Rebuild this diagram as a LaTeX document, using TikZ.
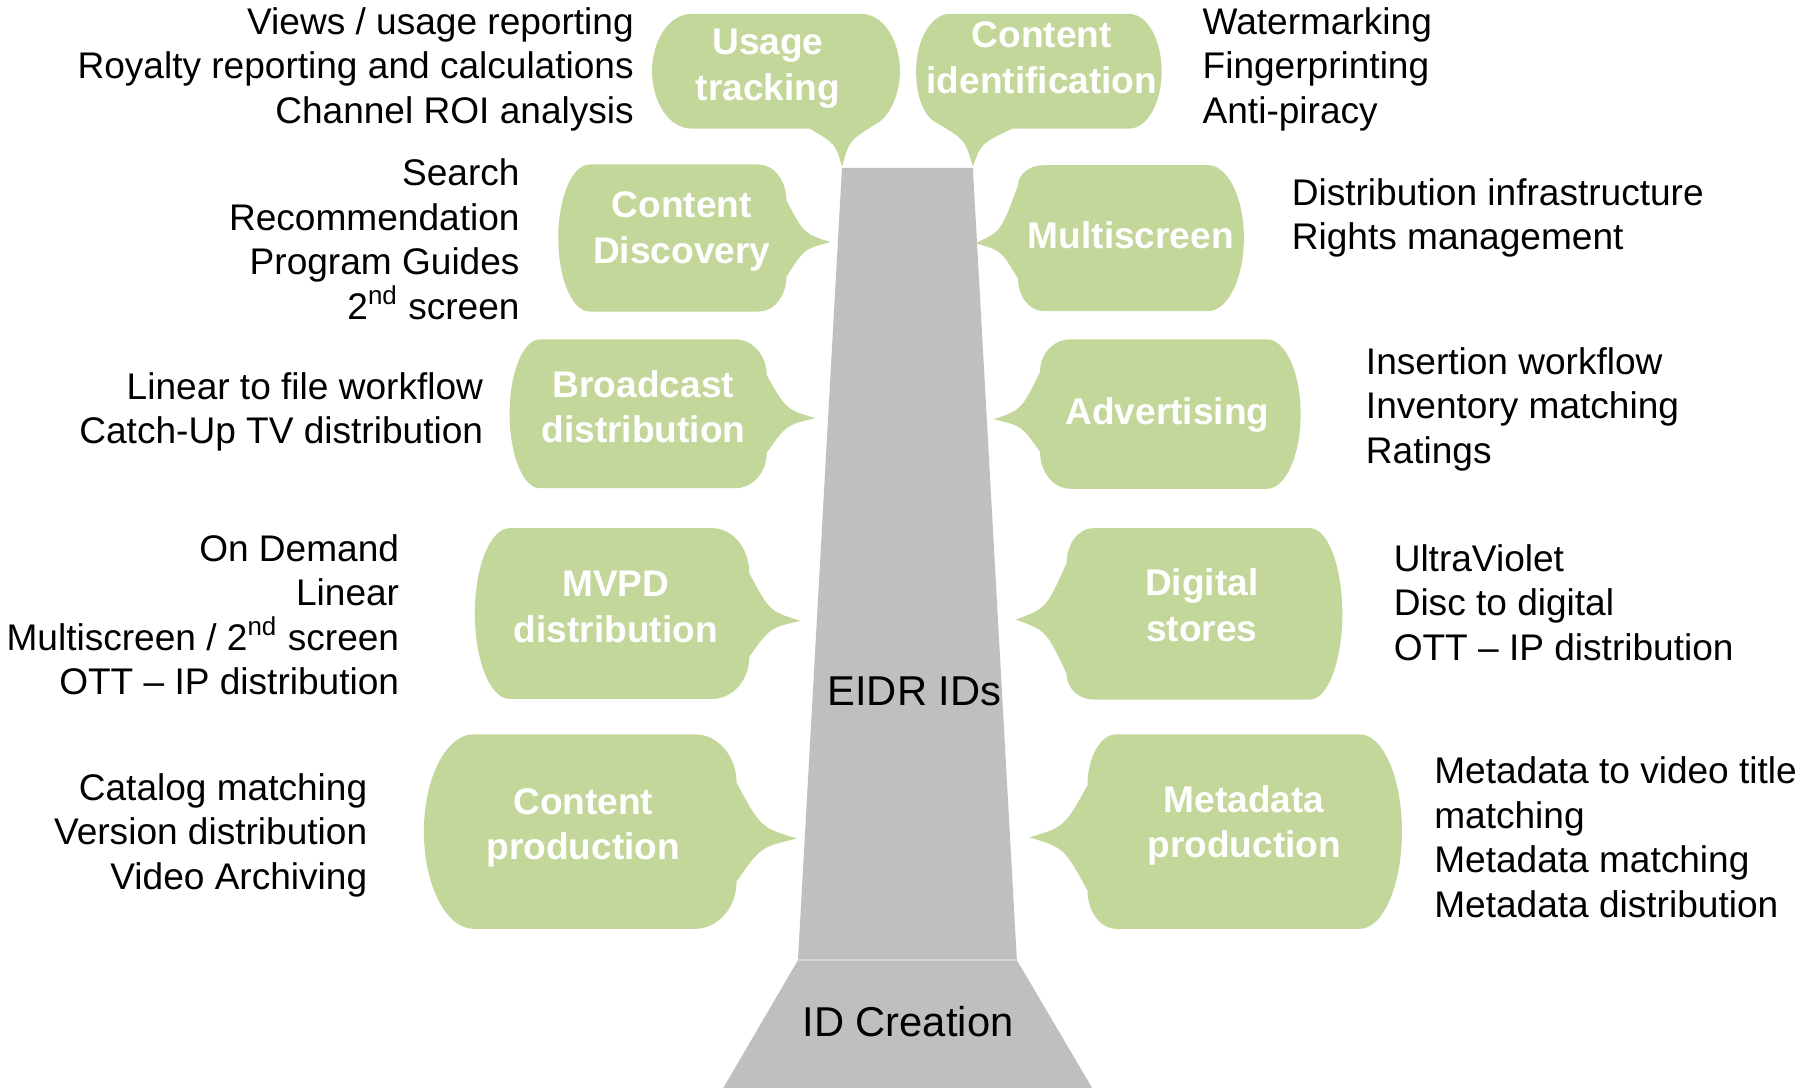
\documentclass[tikz,border=0pt]{standalone}
\usepackage{fontspec}
\setmainfont{Liberation Sans}
\definecolor{bubgreen}{HTML}{C4D79B}
\definecolor{trunkgray}{HTML}{BFBFBF}
\definecolor{seamgray}{HTML}{D4D4D4}
\tikzset{
  bubfill/.style={fill=bubgreen},
  bubtext/.style={text=white, font=\fontsize{16}{19.6}\selectfont\bfseries, align=center, anchor=base, inner sep=0pt},
  lefttext/.style={text=black, font=\fontsize{16}{19.2}\selectfont, align=right, anchor=base east, inner sep=0pt},
  righttext/.style={text=black, font=\fontsize{16}{19.2}\selectfont, align=left, anchor=base west, inner sep=0pt},
  bigtext/.style={text=black, font=\fontsize{18}{21.6}\selectfont, anchor=base, inner sep=0pt}
}
\def\bubtip#1,#2\relax{\def\bubtx{#1}\def\bubty{#2}}
% tail on the right side
\newcommand\bubR[9]{%
  \bubtip#9\relax
  \pgfmathsetmacro\bubM{(#5+#6)/2}%
  \pgfmathsetmacro\bubcA{#3+0.552*(#4-#3)}%
  \pgfmathsetmacro\bubcU{#7-0.552*(#7-#5)}%
  \pgfmathsetmacro\bubcD{#8+0.552*(#6-#8)}%
  \pgfmathsetmacro\bubtUx{#4+0.4*(\bubtx-#4)}%
  \pgfmathsetmacro\bubtUy{#7+0.8*(\bubty-#7)}%
  \pgfmathsetmacro\bubtDy{#8+0.8*(\bubty-#8)}%
  \pgfmathsetmacro\bubcB{#2-0.552*(#2-#1)}%
  \pgfmathsetmacro\bubmU{\bubM-0.552*(\bubM-#5)}%
  \pgfmathsetmacro\bubmD{\bubM+0.552*(#6-\bubM)}%
  \fill[bubfill] (#2,#5) -- (#3,#5) .. controls (\bubcA,#5) and (#4,\bubcU) .. (#4,#7)
    .. controls (\bubtUx,\bubtUy) .. (\bubtx,\bubty)
    .. controls (\bubtUx,\bubtDy) .. (#4,#8)
    .. controls (#4,\bubcD) and (\bubcA,#6) .. (#3,#6) -- (#2,#6)
    .. controls (\bubcB,#6) and (#1,\bubmD) .. (#1,\bubM)
    .. controls (#1,\bubmU) and (\bubcB,#5) .. (#2,#5) -- cycle;
}
% tail on the left side
\newcommand\bubL[9]{%
  \bubtip#9\relax
  \pgfmathsetmacro\bubM{(#5+#6)/2}%
  \pgfmathsetmacro\bubcA{#2-0.552*(#2-#4)}%
  \pgfmathsetmacro\bubcU{#7-0.552*(#7-#5)}%
  \pgfmathsetmacro\bubcD{#8+0.552*(#6-#8)}%
  \pgfmathsetmacro\bubtUx{#4+0.4*(\bubtx-#4)}%
  \pgfmathsetmacro\bubtUy{#7+0.8*(\bubty-#7)}%
  \pgfmathsetmacro\bubtDy{#8+0.8*(\bubty-#8)}%
  \pgfmathsetmacro\bubcB{#3+0.552*(#1-#3)}%
  \pgfmathsetmacro\bubmU{\bubM-0.552*(\bubM-#5)}%
  \pgfmathsetmacro\bubmD{\bubM+0.552*(#6-\bubM)}%
  \fill[bubfill] (#2,#5) -- (#3,#5) .. controls (\bubcB,#5) and (#1,\bubmU) .. (#1,\bubM)
    .. controls (#1,\bubmD) and (\bubcB,#6) .. (#3,#6) -- (#2,#6)
    .. controls (\bubcA,#6) and (#4,\bubcD) .. (#4,#8)
    .. controls (\bubtUx,\bubtDy) .. (\bubtx,\bubty)
    .. controls (\bubtUx,\bubtUy) .. (#4,#7)
    .. controls (#4,\bubcU) and (\bubcA,#5) .. (#2,#5) -- cycle;
}
\begin{document}
\begin{tikzpicture}[x=0.5pt,y=-0.5pt]
\useasboundingbox (0,0) rectangle (1568,939.4);
\fill[white] (0,0) rectangle (1568,939.4);

% trunk and base
\fill[trunkgray] (727,145) -- (840,145) -- (878,829) -- (689,829) -- cycle;
\fill[trunkgray] (689,829) -- (878,829) -- (943,939.4) -- (624.5,939.4) -- cycle;
\draw[seamgray, line width=0.6pt] (689,829) -- (878,829);

% top bubbles
\fill[bubfill] (597,12) -- (744,12) .. controls (762.2,12) and (777,34.2) .. (777,61.5)
  .. controls (777,82) and (768,100) .. (758,106)
  .. controls (733.2,121.2) .. (727,144)
  .. controls (721.4,124.2) .. (699,111) -- (597,111)
  .. controls (578.2,111) and (563,88.8) .. (563,61.5)
  .. controls (563,34.2) and (578.2,12) .. (597,12) -- cycle;
\fill[bubfill] (820,12) -- (975,12) .. controls (990.5,12) and (1003,34.2) .. (1003,61.5)
  .. controls (1003,88.8) and (990.5,111) .. (975,111) -- (874,111)
  .. controls (846.8,124.2) .. (840,144)
  .. controls (833.2,120.3) .. (806,104.5)
  .. controls (797,98) and (791,82) .. (791,61.5)
  .. controls (791,34.2) and (804,12) .. (820,12) -- cycle;

% left column bubbles (tail to the right)
\bubR{482}{509}{655}{679}{142}{269}{173}{239}{717,209}
\bubR{440}{466}{635}{662}{293}{421.5}{324}{391}{704,361}
\bubR{410}{440}{615}{647}{456}{603.5}{495}{567}{691,536}
\bubR{366}{409}{600}{636}{634}{802}{676}{761}{688,724}

% right column bubbles (tail to the left)
\bubL{1074}{901}{1043}{879}{142.6}{268.6}{160}{240.5}{842,210}
\bubL{1123}{924}{1094}{898}{293}{422}{321}{390}{858,362}
\bubL{1159}{944}{1131}{921}{456}{604}{486}{582}{877,535}
\bubL{1210.5}{964}{1174}{939}{634}{802}{678}{769}{889,723}

% bubble labels (anchored at the baseline of their last line)
\node[bubtext] (ut) at (663,86.4) {Usage\\tracking};
\node[bubtext] (ci) at (899.6,80.4) {Content\\identification};
\node[bubtext] (cd) at (588.7,227.4) {Content\\Discovery};
\node[bubtext] (bd) at (555.5,382) {Broadcast\\distribution};
\node[bubtext] (mv) at (531.7,554.6) {MVPD\\distribution};
\node[bubtext] (cp) at (503.6,742.4) {Content\\production};
\node[bubtext] (ms) at (976.4,214.4) {Multiscreen};
\node[bubtext] (ad) at (1008,366.7) {Advertising};
\node[bubtext] (ds) at (1037.7,553.6) {Digital\\stores};
\node[bubtext] (mp) at (1074.3,740.8) {Metadata\\production};

% trunk labels
\node[bigtext] (eidr) at (789.5,609) {EIDR IDs};
\node[bigtext] (idc) at (784,895) {ID Creation};

% left descriptions (anchored at the baseline of their last line)
\node[lefttext] (utd) at (547.6,106.4) {Views / usage reporting\\Royalty reporting and calculations\\Channel ROI analysis};
\node[lefttext] (cdd) at (449,275.7) {Search\\Recommendation\\Program Guides\\2\textsuperscript{nd} screen};
\node[lefttext] (bdd) at (417.5,383) {Linear to file workflow\\Catch-Up TV distribution};
\node[lefttext] (mvd) at (345,600) {On Demand\\Linear\\Multiscreen / 2\textsuperscript{nd} screen\\OTT – IP distribution};
\node[lefttext] (cpd) at (317.5,767.7) {Catalog matching\\Version distribution\\Video Archiving};

% right descriptions
\node[righttext] (cid) at (1038,106.4) {Watermarking\\Fingerprinting\\Anti-piracy};
\node[righttext] (msd) at (1115,215.8) {Distribution infrastructure\\Rights management};
\node[righttext] (add) at (1179,400) {Insertion workflow\\Inventory matching\\Ratings};
\node[righttext] (dsd) at (1203,570) {UltraViolet\\Disc to digital\\OTT – IP distribution};
\node[righttext] (mpd) at (1238,792) {Metadata to video title\\matching\\Metadata matching\\Metadata distribution};
\end{tikzpicture}
\end{document}
